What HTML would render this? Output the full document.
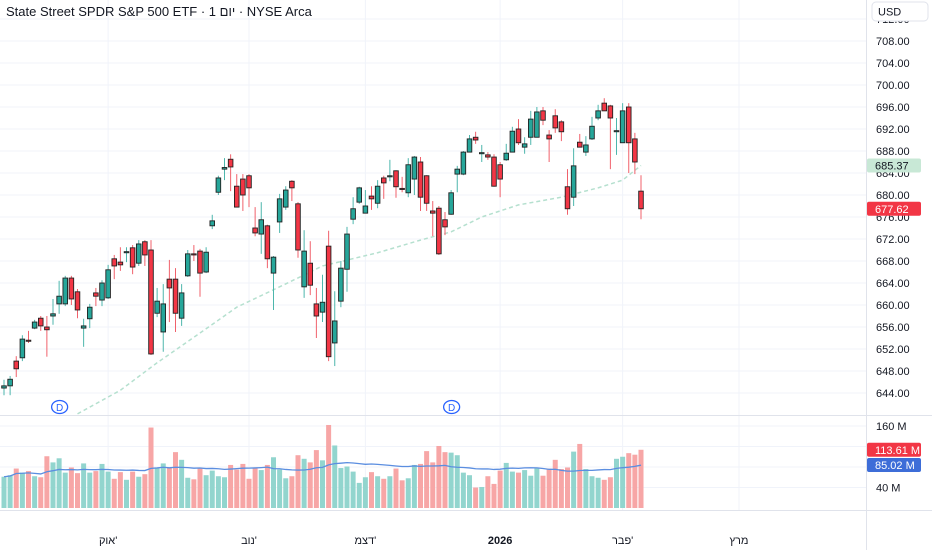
<!DOCTYPE html>
<html><head><meta charset="utf-8">
<style>
html,body{margin:0;padding:0;background:#fff;width:932px;height:550px;overflow:hidden;font-family:"Liberation Sans","Noto Sans CJK SC",sans-serif;}
#wrap{position:relative;width:932px;height:550px;}
svg{position:absolute;left:0;top:0;}
.title{position:absolute;left:6px;top:4px;font-size:13px;color:#131722;white-space:nowrap;}
</style></head>
<body>
<div id="wrap">
<svg id="chart" width="932" height="550"></svg>
<div class="title">State Street SPDR S&amp;P 500 ETF · יום 1 · NYSE Arca</div>
</div>
<script>
// ---- data ----
const opens  = [644.9,645.3,649.8,650.4,653.6,655.8,657.6,656.0,658.0,660.2,660.2,664.9,662.4,655.8,657.5,662.2,660.9,661.3,668.4,667.8,669.5,670.4,667.6,671.5,670.0,658.5,655.1,664.7,664.7,657.6,665.3,669.3,669.8,666.0,674.4,680.5,684.7,686.5,681.6,682.9,683.5,674.0,672.9,674.4,665.8,675.1,677.8,682.5,678.4,663.3,667.6,660.2,658.7,670.7,653.1,660.7,666.5,675.6,678.7,676.7,679.8,678.5,683.1,683.3,684.4,681.2,680.4,682.9,686.0,683.5,677.1,677.6,675.5,676.5,683.8,683.8,687.8,690.5,687.5,687.3,686.9,685.5,686.4,687.8,692.0,688.7,690.5,690.5,695.3,690.9,694.4,693.3,681.5,679.6,689.6,687.8,690.2,694.0,696.7,696.2,691.5,689.5,696.0,690.2,680.7];
const highs  = [646.4,647.1,650.7,654.5,655.3,657.3,658.0,658.0,661.1,664.4,665.3,665.3,662.9,657.5,660.2,663.1,664.5,667.3,669.1,670.5,670.5,670.9,671.8,671.8,671.8,663.1,663.8,668.2,666.7,663.8,670.0,670.9,670.2,670.5,676.4,683.5,686.7,687.4,683.8,683.8,683.8,677.8,678.7,674.6,668.9,680.2,681.6,682.7,678.7,673.6,671.6,663.1,665.5,673.5,662.5,668.0,674.2,679.6,681.5,680.9,681.6,682.7,683.5,686.4,684.5,683.3,686.7,687.1,686.9,683.6,678.9,678.0,676.9,680.9,685.3,688.0,690.9,691.5,689.1,687.8,687.4,686.0,689.3,692.4,693.8,690.5,695.3,696.0,696.0,691.8,695.6,693.6,684.7,688.5,691.1,690.7,694.2,696.4,697.6,696.4,694.0,696.7,696.7,691.3,683.6];
const lows   = [643.6,643.6,646.9,649.8,653.1,655.6,655.3,650.6,656.4,658.4,659.8,660.0,657.6,652.4,655.8,659.8,659.8,661.1,664.7,666.2,667.8,665.6,667.1,667.1,650.9,657.8,651.5,656.9,655.1,656.2,665.1,668.0,661.5,665.8,673.8,680.0,682.7,680.7,677.8,677.1,677.8,672.5,669.3,666.7,659.1,673.1,677.3,678.9,668.6,661.3,661.8,654.0,656.9,649.8,648.9,659.6,662.4,674.7,678.4,676.7,677.3,677.6,679.3,682.5,679.5,680.5,679.6,680.0,677.1,677.1,672.5,669.1,672.7,676.4,680.5,683.6,687.8,689.3,686.0,686.4,681.5,679.6,686.2,687.8,689.1,687.5,689.1,690.5,692.7,686.0,691.3,689.8,676.4,678.0,688.7,687.1,690.0,693.6,695.3,684.7,687.3,689.5,684.0,683.8,675.6];
const closes = [645.3,646.5,648.4,653.8,653.4,656.9,656.2,655.5,658.4,661.6,664.9,661.1,659.1,656.2,659.6,661.6,664.0,666.4,667.1,667.3,669.7,666.9,671.1,669.1,651.1,660.7,660.2,663.1,658.5,662.2,669.3,669.1,665.8,669.6,675.3,683.1,685.0,685.1,677.8,680.0,681.3,673.1,675.5,668.4,668.7,679.3,680.9,681.3,670.0,669.8,663.6,658.0,660.5,650.6,657.1,666.7,672.9,677.5,681.3,678.0,679.3,681.6,682.2,683.5,681.5,681.0,685.5,686.9,679.6,678.5,676.7,669.3,674.2,680.4,684.7,687.8,690.2,690.0,687.7,686.9,681.6,682.9,687.6,691.6,689.5,689.3,693.8,695.1,693.6,690.2,692.2,691.5,677.5,685.3,688.7,689.1,692.5,695.3,695.3,694.0,691.7,695.3,689.5,686.0,677.5];
const volumes = [61,64,77,69,72,62,60,101,89,97,69,79,68,87,69,72,86,71,57,70,55,71,61,66,157,79,87,79,109,94,59,56,77,64,73,62,60,84,75,86,57,79,74,84,99,75,58,62,103,96,89,113,93,162,122,78,81,71,49,60,70,62,57,62,77,54,58,84,86,111,89,121,109,108,103,69,64,40,41,62,47,73,88,71,69,74,63,77,63,77,94,76,79,110,125,76,62,59,55,60,96,100,107,104,113.61];
const maIdx = [12,19,25,32,38,45,52,61,68,73,78,84,91,97,101,104];
const maVal = [640.2,644.5,649.5,654.9,659.6,663.3,667.1,669.5,671.8,673.3,676.0,678.2,679.6,681.3,682.7,685.37];
const priceTicks = [712,708,704,700,696,692,688,684,680,676,672,668,664,660,656,652,648,644];
const volTicks = [160,120,80,40];
const monthLabels = ["אוק'","נוב'","דצמ'","2026","פבר'","מרץ"];
const monthIdx = [17,40,59,81,101,120];

// ---- scales ----
const X0=4, STEP=6.125;
const xOf = i => X0 + i*STEP;
const yP = p => 41 + (708-p)*5.5;
const yV = v => 508 - v*0.5125;

const NS="http://www.w3.org/2000/svg";
const svg=document.getElementById('chart');
function mk(tag,attrs,parent){const e=document.createElementNS(NS,tag);for(const k in attrs)e.setAttribute(k,attrs[k]);(parent||svg).appendChild(e);return e;}

const grid=mk('g',{});


priceTicks.forEach(t=>{mk('line',{x1:0,x2:866,y1:yP(t),y2:yP(t),stroke:'#f0f3fa','stroke-width':1},grid);});
volTicks.forEach(t=>{mk('line',{x1:0,x2:866,y1:yV(t),y2:yV(t),stroke:'#f0f3fa','stroke-width':1},grid);});
monthIdx.forEach(i=>{mk('line',{x1:xOf(i),x2:xOf(i),y1:0,y2:510,stroke:'#f0f3fa','stroke-width':1},grid);});
mk('line',{x1:0,x2:932,y1:415.5,y2:415.5,stroke:'#e0e3eb'});
mk('line',{x1:0,x2:932,y1:510.5,y2:510.5,stroke:'#e0e3eb'});
mk('line',{x1:866.5,x2:866.5,y1:0,y2:550,stroke:'#e0e3eb'});

const vg=mk('g',{});


volumes.forEach((v,i)=>{
  const up = closes[i]>=opens[i];
  const r=mk('rect',{x:xOf(i)-2.5,y:yV(v),width:5,height:508-yV(v),fill:up?'#92d5ce':'#f7a6a6'},vg);
  
  
});
let vpts=[];
volumes.forEach((v,i)=>{const s=Math.max(0,i-19);let sum=0;for(let k=s;k<=i;k++)sum+=volumes[k];const m=sum/(i-s+1);vpts.push(xOf(i)+','+yV(m));});
const vma=mk('polyline',{points:vpts.join(' '),fill:'none',stroke:'#5b8ee0','stroke-width':1.3});



const mpts=maIdx.map((i,k)=>xOf(i)+','+yP(maVal[k]));
const pma=mk('polyline',{points:mpts.join(' '),fill:'none',stroke:'#b5e0cf','stroke-width':1.5,'stroke-dasharray':'4 3'});



const cg=mk('g',{});


opens.forEach((o,i)=>{
  const c=closes[i], up=c>=o, x=xOf(i);
  const col=up?'#26a69a':'#f23645';
  const g=mk('g',{},cg);
  
  
  mk('line',{x1:x,x2:x,y1:yP(highs[i]),y2:yP(lows[i]),stroke:up?'#4db6ac':'#f0616b','stroke-width':1},g);
  const top=yP(Math.max(o,c)), bot=yP(Math.min(o,c));
  mk('rect',{x:x-2.3,y:top,width:4.6,height:Math.max(1,bot-top),fill:col,stroke:'#222','stroke-width':0.9},g);
});

[9,73].forEach(i=>{
  const g=mk('g',{});
  
  
  mk('ellipse',{cx:xOf(i)+0.5,cy:407,rx:8,ry:6.5,fill:'#fff',stroke:'#2962ff','stroke-width':1.3},g);
  const t=mk('text',{x:xOf(i)+0.5,y:411,'text-anchor':'middle','font-size':10,fill:'#2962ff','font-family':'Liberation Sans, sans-serif'},g);
  t.textContent='D';
});

const ag=mk('g',{});


priceTicks.forEach(t=>{
  const tx=mk('text',{x:876,y:yP(t)+4,'font-size':11,fill:'#131722','font-family':'Liberation Sans, sans-serif'},ag);
  tx.textContent=t.toFixed(2);
});
const vag=mk('g',{});


volTicks.forEach(t=>{
  const tx=mk('text',{x:876,y:yV(t)+4,'font-size':11,fill:'#131722','font-family':'Liberation Sans, sans-serif'},vag);
  tx.textContent=t+' M';
});
const ub=mk('g',{});


mk('rect',{x:872,y:2,width:56,height:19,rx:4,fill:'#fff',stroke:'#e0e3eb'},ub);
const ut=mk('text',{x:878,y:15.5,'font-size':11,fill:'#131722','font-family':'Liberation Sans, sans-serif'},ub);
ut.textContent='USD';

function badge(name,y,txt,bg,fg){
  const g=mk('g',{});
  
  
  mk('rect',{x:867,y:y-7,width:54,height:14,rx:2,fill:bg},g);
  const t=mk('text',{x:875,y:y+4,'font-size':11,fill:fg,'font-family':'Liberation Sans, sans-serif'},g);
  t.textContent=txt;
}
badge('ma-value-label',yP(maVal[maVal.length-1]),maVal[maVal.length-1].toFixed(2),'#c8e8d6','#131722');
badge('last-price-label',yP(closes[closes.length-1]),'677.62','#f23645','#fff');
badge('last-volume-label',yV(volumes[volumes.length-1]),'113.61 M','#f23645','#fff');
badge('volume-ma-label',465,'85.02 M','#3d6dd8','#fff');

const tg=mk('g',{});


monthLabels.forEach((m,k)=>{
  const t=mk('text',{x:xOf(monthIdx[k]),y:544,'text-anchor':'middle','font-size':11,fill:'#131722','font-weight':m==='2026'?'bold':'normal','font-family':'Liberation Sans, DejaVu Sans, sans-serif'},tg);
  t.textContent=m;
});
</script>
</body></html>
